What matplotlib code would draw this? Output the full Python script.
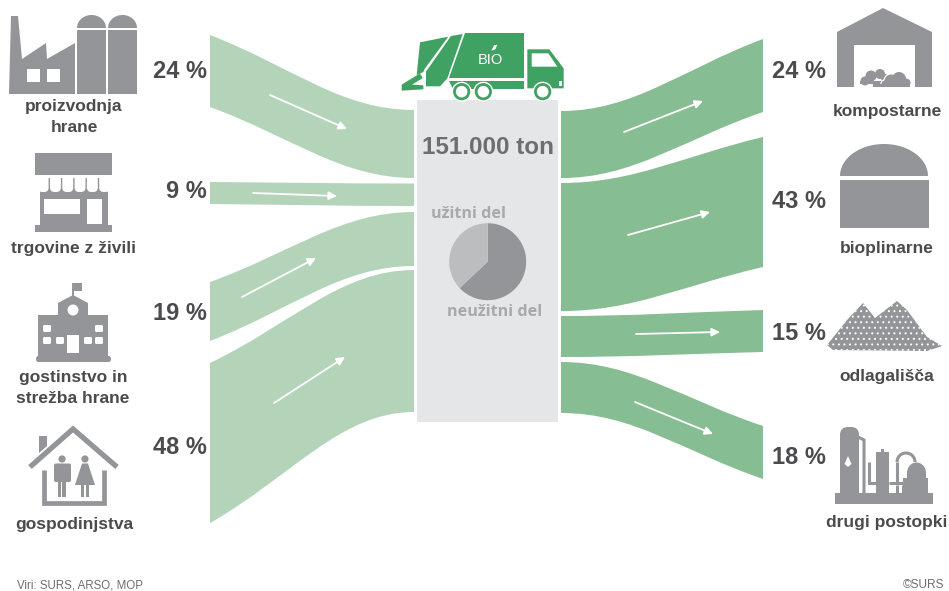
import numpy as np
import matplotlib
matplotlib.use('Agg')
import matplotlib.pyplot as plt
from matplotlib.path import Path
from matplotlib.patches import PathPatch, Polygon, Rectangle, Circle, FancyBboxPatch

# shares of food waste, percent
sources = ['proizvodnja\nhrane', 'trgovine z živili', 'gostinstvo in\nstrežba hrane', 'gospodinjstva']
source_share = [24, 9, 19, 48]
sinks = ['kompostarne', 'bioplinarne', 'odlagališča', 'drugi postopki']
sink_share = [24, 43, 15, 18]
total_label = '151.000 ton'
pie_labels = ['neužitni del', 'užitni del']
pie_share = [63, 37]

icon_grey = '#939598'
text_dark = '#4b4b4d'
left_green = '#b4d4b9'
right_green = '#87bd92'
truck_green = '#3fa162'
box_grey = '#e5e6e8'

# band layout, px per percent plus a per-band flare at each end
px_per_pct = 2.85
left_x = (210, 414)
left_in_top = [110, 183.5, 212, 270]
left_out_top = [35, 182, 282, 363]
left_in_flare = [0.994, 0.877, 0.997, 1.038]
left_out_flare = [1.053, 0.858, 1.09, 1.17]
right_x = (763, 561)
right_in_top = [111, 183, 316, 362]
right_out_top = [39, 137, 310, 426]
right_in_flare = [0.98, 1.045, 0.959, 0.994]
right_out_flare = [1.067, 1.061, 0.982, 1.033]

left_arrows = [((270, 95), (347, 129)), ((253, 193), (337, 196)),
               ((242, 297), (316, 258)), ((274, 403), (345, 357))]
right_arrows = [((624, 132), (703, 101)), ((628, 235), (710, 212)),
                ((636, 334), (720, 332)), ((635, 402), (713, 434))]

plt.rcParams['font.family'] = ['Liberation Sans', 'DejaVu Sans']
plt.rcParams['hatch.linewidth'] = 0.7
fig = plt.figure(figsize=(9.49, 5.91), dpi=100)
ax = fig.add_axes([0, 0, 1, 1])
ax.set_xlim(0, 949)
ax.set_ylim(591, 0)
ax.axis('off')


def band(x_out, x_in, y_out, y_in, h_out, h_in, color):
    dx = x_in - x_out

    def ctrl(y0, y1):
        return [(x_out + 0.40 * dx, y0 + 0.42 * (y1 - y0)), (x_in - 0.36 * dx, y1)]

    top = ctrl(y_out, y_in)
    bot = ctrl(y_out + h_out, y_in + h_in)
    verts = [(x_out, y_out), top[0], top[1], (x_in, y_in), (x_in, y_in + h_in),
             bot[1], bot[0], (x_out, y_out + h_out), (x_out, y_out)]
    codes = [Path.MOVETO, Path.CURVE4, Path.CURVE4, Path.CURVE4, Path.LINETO,
             Path.CURVE4, Path.CURVE4, Path.CURVE4, Path.CLOSEPOLY]
    ax.add_patch(PathPatch(Path(verts, codes), fc=color, ec='none'))


def arrow(start, end):
    ax.annotate('', xy=end, xytext=start,
                arrowprops=dict(arrowstyle='-|>', color='white', lw=1.3, mutation_scale=12,
                                shrinkA=0, shrinkB=0))


def poly(pts, color=icon_grey, **kw):
    ax.add_patch(Polygon(pts, closed=True, fc=color, ec='none', **kw))


def rect(x0, y0, x1, y1, color=icon_grey):
    ax.add_patch(Rectangle((x0, y0), x1 - x0, y1 - y0, fc=color, ec='none'))


def circle(x, y, r, color=icon_grey):
    ax.add_patch(Circle((x, y), r, fc=color, ec='none'))


def rounded(x0, y0, x1, y1, r=1.5, color='white'):
    ax.add_patch(FancyBboxPatch((x0 + r, y0 + r), x1 - x0 - 2 * r, y1 - y0 - 2 * r,
                                boxstyle='round,pad=%g,rounding_size=%g' % (r, r), fc=color, ec='none'))


def stroke(pts, lw, color=icon_grey, cap='butt'):
    xs, ys = zip(*pts)
    ax.plot(xs, ys, color=color, lw=lw, solid_capstyle=cap, solid_joinstyle='miter')


def dome(cx, base, rx, ry, color=icon_grey):
    t = np.linspace(np.pi, 2 * np.pi, 40)
    poly(list(zip(cx + rx * np.cos(t), base + ry * np.sin(t))), color)


# flow bands
for i, share in enumerate(source_share):
    band(left_x[0], left_x[1], left_out_top[i], left_in_top[i],
         share * px_per_pct * left_out_flare[i], share * px_per_pct * left_in_flare[i], left_green)
    arrow(*left_arrows[i])
for i, share in enumerate(sink_share):
    band(right_x[0], right_x[1], right_out_top[i], right_in_top[i],
         share * px_per_pct * right_out_flare[i], share * px_per_pct * right_in_flare[i], right_green)
    arrow(*right_arrows[i])

# centre column and pie
rect(417, 100, 558, 422, box_grey)
ax.text(488, 148, total_label, ha='center', va='center', fontsize=17.5, fontweight='bold', color='#6d6e71')
pie_ax = fig.add_axes([(487.7 - 38.5) / 949, 1 - (261.7 + 38.5) / 591, 77 / 949, 77 / 591])
pie_ax.pie(pie_share, colors=[icon_grey, '#bbbdbf'], startangle=90, counterclock=False, radius=1.0)
pie_ax.set_xlim(-1, 1)
pie_ax.set_ylim(-1, 1)
ax.text(468.5, 214, pie_labels[1], ha='center', va='center', fontsize=11.6,
        family='Open Sans', fontweight='bold', color='#a7a9ac')
ax.text(495, 311.5, pie_labels[0], ha='center', va='center', fontsize=11.6,
        family='Open Sans', fontweight='bold', color='#a7a9ac')

# percentages
for y, share in zip([72, 191, 313, 447], source_share):
    ax.text(207, y, '%d %%' % share, ha='right', va='center', fontsize=17, fontweight='bold', color=text_dark)
for y, share in zip([72, 201, 333, 458], sink_share):
    ax.text(826, y, '%d %%' % share, ha='right', va='center', fontsize=17, fontweight='bold', color=text_dark)

# category captions
for (x, y), name in zip([(74, 117), (74, 249), (73, 388), (74, 524)], sources):
    ax.text(x, y, name, ha='center', va='center', fontsize=12.5, fontweight='bold',
            color=text_dark, linespacing=1.42)
for (x, y), name in zip([(887, 111.5), (887, 249), (887, 376), (887, 522)], sinks):
    ax.text(x, y, name, ha='center', va='center', fontsize=12.5, fontweight='bold', color=text_dark)

ax.text(17, 585, 'Viri: SURS, ARSO, MOP', ha='left', va='center', fontsize=8.3, color='#6d6e71')
ax.text(944, 584.5, '©SURS', ha='right', va='center', fontsize=8.6, color='#6d6e71')

# factory and silos
poly([(9, 94), (11, 16), (18, 16), (22, 59), (46, 43), (47, 59), (75, 43), (75, 94)])
rect(27, 69, 40, 82, 'white')
rect(47, 69, 60, 82, 'white')
for x0 in (77, 108):
    rect(x0, 30, x0 + 29, 94)
    dome(x0 + 14.5, 28, 14.5, 13)

# shop
rect(35, 153, 112, 175)
rect(40, 178, 108, 226)
rect(35, 225, 112, 232)
for k in range(6):
    x0 = 37 + k * 12.3
    rounded(x0 + 0.7, 170, x0 + 11.6, 192, r=4.5)
rect(35, 153, 112, 175)
rect(44, 199, 80, 214, 'white')
rect(87, 199, 102, 224, 'white')

# school
rounded(36, 356, 111, 362, r=2.5, color=icon_grey)
rect(38, 315, 108, 357)
poly([(58, 315), (58, 303), (73, 295), (88, 303), (88, 315)])
stroke([(73, 283), (73, 297)], 1.4)
rect(74, 283, 82, 291)
circle(73, 310, 5.5, 'white')
for x0, y0 in [(43, 325), (95, 325), (43, 337), (56, 337), (84, 337), (95, 337)]:
    rounded(x0, y0, x0 + 8, y0 + 7)
rect(67, 335, 79, 353, 'white')

# house with two figures
stroke([(30, 467), (73, 429), (117, 467)], 3.8)
poly([(39, 436), (47, 436), (47, 446), (39, 453)])
stroke([(44.5, 470), (44.5, 503), (104, 503), (104, 470)], 3.4)
circle(62, 459, 3.6)
rounded(54, 463.5, 71, 482, r=2, color=icon_grey)
rect(58, 478, 61.5, 497)
rect(62.5, 478, 66, 497)
circle(85, 459, 3.6)
poly([(82, 463.5), (88, 463.5), (95, 485), (75, 485)])
rect(81, 484, 84, 497)
rect(86, 484, 89, 497)

# compost hall
poly([(837, 32), (883, 8), (932, 32), (932, 87), (915, 87), (915, 45), (854, 45), (854, 87), (837, 87)])
for x, y, r in [(865, 81, 4.5), (871, 76, 5.5), (880, 74, 5), (885, 78, 4)]:
    circle(x, y, r)
rect(860, 81, 885, 84)
for x, y, r in [(885, 84, 3.5), (891, 81, 6.5), (899, 79, 7), (906, 83, 4.5)]:
    circle(x, y, r + 1.2, 'white')
for x, y, r in [(885, 84, 3.5), (891, 81, 6.5), (899, 79, 7), (906, 83, 4.5)]:
    circle(x, y, r)
rect(873, 84, 910, 87)
rect(855, 87, 914, 92, 'white')

# biogas digester
dome(884, 176, 44, 32)
rect(840, 180, 929, 228)

# gravel heap
ax.add_patch(Polygon([(827, 345), (847, 320), (863, 303), (875, 318), (897, 301), (907, 310),
                      (927, 337), (942, 346), (927, 351), (833, 350)], closed=True,
                     fc=icon_grey, ec='white', lw=0, hatch='...'))

# refinery
rect(835, 493, 933, 504)
rounded(840, 427, 859, 494, r=8, color=icon_grey)
rect(840, 440, 859, 494)
poly([(848, 456), (851.5, 464), (848, 467), (844.5, 464)], 'white')
stroke([(858, 437), (864, 440), (864, 494)], 2.2)
stroke([(869, 462), (869, 483), (877, 483)], 2.2)
rect(876, 452, 889, 494)
rect(881, 449, 884, 453)
stroke([(889, 483), (905, 483)], 2.2)
stroke([(897, 494), (897, 485)], 2.2)
stroke([(903, 494), (903, 485)], 2.2)
t = np.linspace(np.pi, 2 * np.pi, 20)
stroke(list(zip(906 + 9 * np.cos(t), 462 + 9 * np.sin(t))), 2.2)
stroke([(897, 462), (897, 483)], 2.2)
dome(916.5, 473, 9.5, 10.5)
rect(907, 472, 926, 478)
rect(903, 478, 928, 494)


# garbage truck, local units at three per pixel
def tr(pts):
    return [(390 + u / 3, 10 + v / 3) for u, v in pts]


poly(tr([(225, 70), (402, 70), (402, 205), (178, 205)]), truck_green)
poly(tr([(183, 78), (218, 72), (172, 205), (150, 229), (108, 229), (108, 185)]), truck_green)
poly(tr([(90, 97), (175, 80), (103, 178), (100, 186), (80, 195)]), truck_green)
poly(tr([(35, 224), (90, 190), (98, 204), (66, 224), (100, 226), (100, 238), (35, 242)]), truck_green)
poly(tr([(178, 212), (402, 212), (402, 236), (190, 236)]), truck_green)
poly(tr([(412, 118), (478, 118), (521, 175), (521, 235), (412, 235)]), truck_green)
poly(tr([(425, 130), (475, 130), (502, 170), (425, 170)]), 'white')
rect(*tr([(508, 213)])[0], *tr([(516, 228)])[0], 'white')
for u in (215, 280, 458):
    c = tr([(u, 245)])[0]
    circle(c[0], c[1], 10, 'white')
    circle(c[0], c[1], 8.6, truck_green)
    circle(c[0], c[1], 5.8, 'white')
ax.text(490.5, 60, 'BIO', ha='center', va='center', fontsize=10.5, color='white')
poly(tr([(304, 122), (312, 106), (322, 104), (316, 118)]), 'white')

fig.savefig('out.png', dpi=100)
